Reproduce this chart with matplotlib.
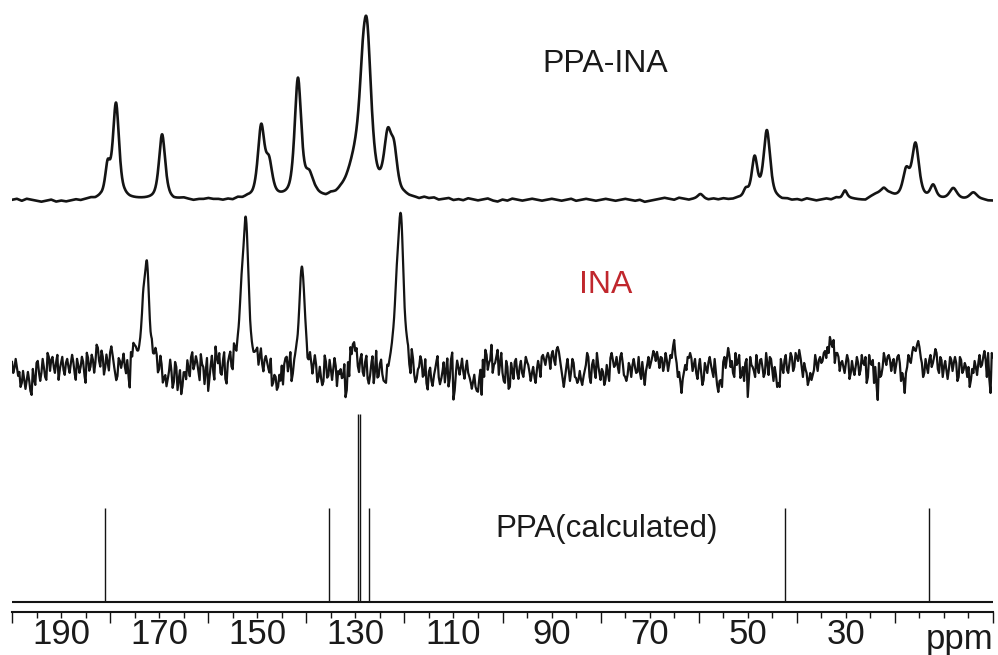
import numpy as np
import matplotlib
matplotlib.use("Agg")
import matplotlib.pyplot as plt
from matplotlib.ticker import FixedLocator, FixedFormatter

plt.rcParams['font.family'] = ['Liberation Sans', 'DejaVu Sans']

# ---------------- data ----------------
# PPA-INA experimental spectrum: peak table (ppm, height, half-width ppm)
ppa_ina_pos = [180.5, 178.8, 169.4, 149.2, 147.6, 141.7, 139.4, 129.3, 128.5, 127.6,
               123.4, 122.1, 59.6, 50.4, 48.6, 46.1, 30.2, 22.5, 22.2, 17.7, 15.8,
               12.2, 8.1, 4.0]
ppa_ina_height = [30, 95, 65, 70, 32, 118, 20, 45, 45, 129,
                  55, 38, 4, 8, 40, 68, 7, 6, 5, 26, 54,
                  13, 11, 7]
ppa_ina_width = [0.6, 0.75, 0.75, 0.8, 0.8, 0.8, 1.0, 2.2, 0.8, 1.0,
                 0.9, 0.8, 0.6, 0.6, 0.7, 0.8, 0.5, 2.5, 0.6, 0.8, 0.85,
                 0.7, 0.9, 0.9]
# PPA-INA baseline wiggle, 200 -> 0 ppm every 1 ppm
ppa_ina_baseline = [
    0, 1, -1, 1, 0, -1, -2, -1, 0, -2,
    -1, -2, -1, 0, -1, 0, 1, 0, 1, 0,
    0, 0, 0, 1, 0, 0, 0, 0, 0, 0,
    0, 0, 0, -1, 0, 1, 0, -1, 0, 0,
    1, 0, 0, -1, 0, -1, 1, 0, 1, 0,
    0, 0, 0, 0, 0, 0, 0, 0, 0, 0,
    0, 0, 1, 0, -1, 1, 0, 1, 0, 0,
    0, 0, 0, 0, 0, 0, 0, 0, 0, 0,
    1, 0, 0, -1, 1, 0, 1, -1, 0, 1,
    -1, 0, -1, 1, 0, -1, 0, 1, -1, -2,
    0, -1, 1, 0, -1, 0, 1, 0, -1, 0,
    1, 0, -1, 0, 1, -1, 0, 1, 0, -1,
    0, 1, 0, -1, 0, 1, 0, -1, 0, -2,
    -1, 0, 1, 2, 1, 0, 2, 1, 0, 1,
    2, 1, 0, 1, 0, 1, 0, 0, 1, 0,
    0, 0, 0, 0, 0, 0, 0, -1, 0, -1,
    0, -1, 1, 0, -1, 0, 1, 0, 2, 1,
    2, 1, 0, -1, -2, 0, 1, 1, 0, 1,
    0, 0, 0, 0, 0, 0, 0, 0, 0, 0,
    0, 0, 0, 0, 0, 0, 0, 0, 0, -1,
    -1]

# INA experimental spectrum: peak table
ina_pos = [173.3, 172.5, 153.2, 152.3, 140.9, 121.6, 120.7]
ina_height = [40, 95, 50, 135, 100, 55, 138]
ina_width = [0.5, 0.6, 0.6, 0.65, 0.65, 0.6, 0.65]
# INA baseline noise, 200 -> 0 ppm every 0.5 ppm
ina_noise = [
    5, -1, 0, -5, -16, -13, -13, -13, -28, -13,
    4, -6, -6, 0, -13, 10, 7, 0, 5, -13,
    4, -3, 4, 0, 4, 5, -13, 2, 0, 5,
    -16, 9, 0, 7, 4, 19, 0, 10, -1, 4,
    14, 12, -6, -10, 5, 4, -1, 5, -23, 7,
    17, 8,
    3, -2, 0, 2, -3, 6,
    4, 7, -6, 0, -13, -21, -6, -5, -16, -1,
    -13, -28, -6, -13, -3, 9, -3, 10, -5, 12,
    -1, -5, -25, 0, -5, 19, 2, -8, 4, -15,
    0, 10, -10, 7,
    3, 0, -2, 2, 0, -3, 0,
    4, 12, 5, -1, 4, 2, -8, -21, -10, -25, -10, -1, 0, 7, -1, -20, -3,
    2, -2, 0, 3, 3,
    -5, -1, -1, -1, -13, -13, -16, 4, -10, -3,
    -3, 0, -5, -3, -11, -31, 4, 19, 22, 15,
    0, 7, -6, 4, -13, -10, 9, -6, -13, 0,
    -11, -20, -5, -3,
    2, -2, 0, 3, 0, -3, 4,
    -10, 10, -13, -16, -3, 4, -10, -18, -6, -15,
    -10, 4, -11, -13, 4, -3, -20, 7, -33, -6,
    0, -1, -5, -1, -6, -15, -15, -20, -25, -3,
    7, 17, -3, 7, -6, 4, 17, 4,
    -6, -16, 0, -20, -3, 5, -6, 0, -6, 0,
    5, -5, -6, -10, -3, 0, 10, 7, 10, 9,
    12, 7, 17, 15, -3, -20, 0, -3, -5, 4,
    -11, -13, -13, -10, 2, 10, -16, 7, -11, 2,
    -13, -5, -13, -6, 9, 7, 2, 0, 10, 5,
    -10, -8, 0, 2, 0, -5, -5, 5, -18, 2,
    -1, 9, 13, 15, -1, 9, 2, 7, 4, 9,
    27, 4, -5, -26, -5, -3, 9, 9, 2, -6,
    0, -6, -13, -1, 5, 2, -10, -5, -25, -13,
    5, -1, 19, 0, -6, 14, 5, -11, 0, 4,
    -30,
    10, 0, -10, 0, 7, 0, -6, 4, 10, -3,
    0, -20, -20, 0, 7, -3, 4, 10, 0, 10,
    17, 0, 4, -6, -13, -13, -3, 4, 7, 4,
    14, 9, 14, 24, 27, 14, 10, 4, 0, 4,
    7, -6, -3, 0, 4, -3, 4, 10, -10, 4,
    7, 0, -33, -10, 0, 7, 10, 7, 4, -6,
    10, 4, -6, -26, 0, 7, 14, 17, 22, 20,
    4, -6, 0, 7, 0, 10, 14, -6, 7, 0,
    -3, -3, 7, 4, 4, -10, 7, -3, 0, 0,
    -13, -6, 0, 4, 0, 10, 7, 14, -26, 10]
# INA noise read between the samples above (199.75 -> 0.25 ppm)
ina_noise_mid = [
    -6, 8, -9, -20, -4, -22, -5, -24, -2, -18, 6, -14, 8, -10, 14, -4, 10, -6, 12, -2,
    10, -8, 8, -6, 12, -6, 8, -6, 10, -8, 14, -4, 12, -6, 22, 6, 16, -8, 12, -4,
    20, 2, -14, 8, -2, 12, -8, -12, 12, 20, 14, 4, 0, 2, -1, 1, -2, 0, 12, -10,
    8, -18, -10, -14, 6, -22, 4, -24, -4, -20, -6, 6, -10, 14, 2, 4, -14, 2, -18, 8,
    -12, 10, -14, 8, 12, -10, 12, -20, 6, -6, 14, -2, 0, 1, -1, 0, 2, -1, 0, 8,
    -4, 14, -8, 8, -4, 6, -18, -12, -22, -16, -20, 6, -8, 10, -14, 0, -2, 1, 0, 2,
    -10, 6, -12, 8, -18, -2, -20, 10, -12, 6, -14, 8, -20, -8, -12, 2, -24, -10, 12, 24,
    18, -6, 12, -10, 10, -18, 2, -18, 14, -12, 4, -18, -22, -8, 0, 1, -1, 2, 0, -2,
    1, 4, -16, 2, -20, -6, 8, -12, 6, -24, -2, -20, -4, 10, -18, -6, -16, 8, -12, 14,
    -24, 6, -8, 8, -12, 6, -10, -22, -8, -24, -12, -28, -10, 12, 4, 22, 2, 10, -8, 14,
    -14, 6, -22, 4, -12, 8, -12, 6, -10, 10, 2, -14, 0, -16, 6, -10, 12, 2, 14, -2,
    16, 2, 20, 6, -12, -10, 8, -14, 8, -10, -16, -4, -18, -4, 14, -10, 2, -4, 14, -6,
    -2, -18, 2, -14, 14, 0, 10, -6, 14, -8, -14, 4, -10, 8, -6, 10, -12, -8, -4, 10,
    4, 16, 6, 8, 10, -4, 14, -4, 12, 20, 12, -10, -14, -12, 2, 10, 14, -4, 8, -12,
    8, -18, 4, -6, 10, -4, 8, -18, -14, -20, 10, 8, 12, 6, -10, 2, 12, -8, -14, 8,
    -12, 2, -4, 12, -6, 8, -10, 14, -8, 8, -14, -8, -16, 8, -6, 12, -6, 14, -4, 14,
    6, 10, -10, -2, -18, -6, -8, 12, -4, 10, 6, 16, 20, 30, 20, 4, 14, -4, 6, -6,
    12, -12, 6, -8, 10, -8, 12, 2, -16, 12, 2, -16, -18, 4, -8, 14, 2, 12, -4, 8,
    2, 12, -14, -12, -6, 12, 4, 20, 16, 26, 10, -10, 8, -6, 12, 4, 18, -2, 10, -10,
    6, -12, 10, -4, 10, -14, 10, -6, 4, -10, -20, -2, 6, -8, 12, 2, 16, -10, -12, 14]

# PPA calculated stick spectrum
calc_pos = [181.0, 135.3, 129.5, 129.0, 127.2, 42.4, 13.1]
calc_height = [94, 94, 188, 188, 94, 94, 94]

# axis labels
tick_label_pos = [190, 170, 150, 130, 110, 90, 70, 50, 30]
tick_labels = ['190', '170', '150', '130', '110', '90', '70', '50', '30']

# ---------------- layout constants ----------------
PPA_INA_BASE = 412
INA_BASE = 245
CALC_BASE = 10
LINE_COLOR = '#141414'


def pvoigt(x, pos, h, w, eta=0.6):
    d = (x - pos) / w
    return h * (eta / (1 + d ** 2) + (1 - eta) * np.exp(-np.log(2) * d ** 2))


ppm = np.linspace(200, 0, 4001)
grid1 = np.linspace(200, 0, len(ppa_ina_baseline))

noise_all = np.empty(len(ina_noise) + len(ina_noise_mid))
noise_all[0::2] = ina_noise
noise_all[1::2] = ina_noise_mid
grid_n = np.linspace(200, 0, len(noise_all))

y_top = PPA_INA_BASE + np.interp(ppm, grid1[::-1], np.array(ppa_ina_baseline, float)[::-1])
for p, h, w in zip(ppa_ina_pos, ppa_ina_height, ppa_ina_width):
    y_top = y_top + pvoigt(ppm, p, h, w)

y_mid = INA_BASE + np.interp(ppm, grid_n[::-1], noise_all[::-1])
for p, h, w in zip(ina_pos, ina_height, ina_width):
    y_mid = y_mid + pvoigt(ppm, p, h, w)

fig = plt.figure(figsize=(9.98, 6.55), dpi=100)
ax = fig.add_axes([12 / 998, 43 / 655, 981 / 998, 612 / 655])
ax.set_xlim(200, 0)
ax.set_ylim(0, 612)

ax.plot(ppm, y_top, color=LINE_COLOR, lw=1.9, solid_joinstyle='round')
ax.plot(ppm, y_mid, color=LINE_COLOR, lw=1.6, solid_joinstyle='round')

ax.hlines(CALC_BASE, 200, 0, color=LINE_COLOR, lw=1.5)
ax.vlines(calc_pos, CALC_BASE, [CALC_BASE + h for h in calc_height],
          color=LINE_COLOR, lw=1.0)

ax.text(79.1, 540.5, 'PPA-INA', ha='center', va='baseline', fontsize=23, color='#1a1a1a')
ax.text(78.9, 319, 'INA', ha='center', va='baseline', fontsize=23, color='#C0272D')
ax.text(78.7, 75, 'PPA(calculated)', ha='center', va='baseline', fontsize=22.5, color='#1a1a1a')

for s in ['top', 'left', 'right']:
    ax.spines[s].set_visible(False)
ax.spines['bottom'].set_linewidth(1.5)
ax.spines['bottom'].set_color(LINE_COLOR)
ax.set_yticks([])

major_pos = [v for v in range(200, -1, -5) if v % 20 != 0]
minor_pos = [v for v in range(200, -1, -20)]
major_lab = [tick_labels[tick_label_pos.index(v)] if v in tick_label_pos else '' for v in major_pos]
ax.xaxis.set_major_locator(FixedLocator(major_pos))
ax.xaxis.set_major_formatter(FixedFormatter(major_lab))
ax.xaxis.set_minor_locator(FixedLocator(minor_pos))
ax.tick_params(axis='x', which='major', direction='out', length=4, width=1.0,
               color=LINE_COLOR, labelsize=25, pad=0, labelcolor='#1a1a1a')
ax.tick_params(axis='x', which='minor', direction='out', length=8, width=1.0,
               color=LINE_COLOR)
ax.text(6.8, -37, 'ppm', ha='center', va='baseline', fontsize=25, color='#1a1a1a',
        clip_on=False)

fig.savefig('out.png', dpi=100)
